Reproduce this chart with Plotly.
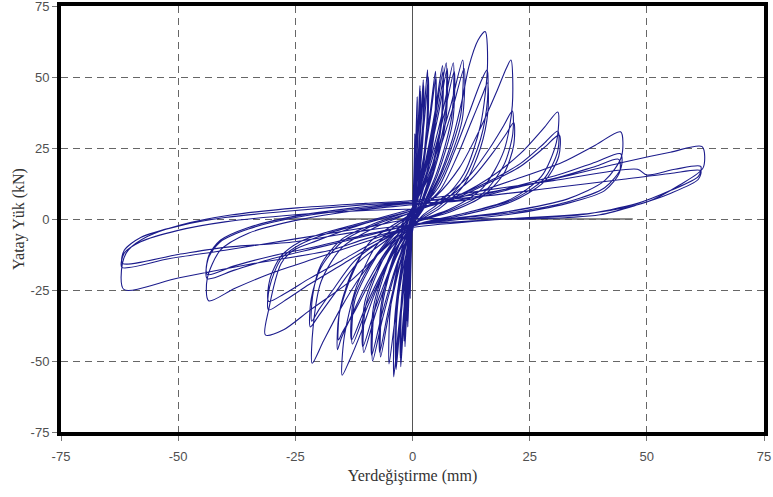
import plotly.graph_objects as go

# ---------------- data ----------------
# small cycles, two repeats per amplitude level (displacement mm, load kN)
lvl01_x = [0.18,0.38,0.5,0.48,0.3,0.1,-0.18,-0.38,-0.5,-0.48,-0.3,-0.1, 0.18,0.38,0.5,0.48,0.3,0.1,-0.18,-0.38,-0.5,-0.48,-0.3,-0.1]
lvl01_y = [9,21,30,19.5,9,1.8,-8.4,-19.6,-28,-18.2,-8.4,-1.7, 8.4,19.6,28,18.2,8.4,1.7,-7.8,-18.2,-26,-16.9,-7.8,-1.6]
lvl02_x = [0.35,0.75,1.0,0.96,0.6,0.2,-0.35,-0.75,-1.0,-0.96,-0.6,-0.2, 0.35,0.75,1.0,0.96,0.6,0.2,-0.39,-0.83,-1.1,-1.06,-0.66,-0.22]
lvl02_y = [12.9,30.1,43,28,12.9,2.6,-11.4,-26.6,-38,-24.7,-11.4,-2.3, 12.3,28.7,41,26.7,12.3,2.5,-10.8,-25.2,-36,-23.4,-10.8,-2.2]
lvl03_x = [0.56,1.2,1.6,1.54,0.96,0.32,-0.56,-1.2,-1.6,-1.54,-0.96,-0.32, 0.6,1.28,1.7,1.63,1.02,0.34,-0.63,-1.35,-1.8,-1.73,-1.08,-0.36]
lvl03_y = [14.1,32.9,47,30.6,14.1,2.8,-13.5,-31.5,-45,-29.3,-13.5,-2.7, 13.5,31.5,45,29.3,13.5,2.7,-12.9,-30.1,-43,-28,-12.9,-2.6]
lvl04_x = [0.8,1.73,2.3,2.21,1.38,0.46,-0.88,-1.88,-2.5,-2.4,-1.5,-0.5, 0.84,1.8,2.4,2.3,1.44,0.48,-0.91,-1.95,-2.6,-2.5,-1.56,-0.52]
lvl04_y = [14.7,34.3,49,31.9,14.7,2.9,-15.6,-36.4,-52,-33.8,-15.6,-3.1, 14.1,32.9,47,30.6,14.1,2.8,-14.7,-34.3,-49,-31.9,-14.7,-2.9]
lvl05_x = [1.12,2.4,3.2,3.07,1.92,0.64,-1.23,-2.63,-3.5,-3.36,-2.1,-0.7, 1.19,2.55,3.4,3.26,2.04,0.68,-1.26,-2.7,-3.6,-3.46,-2.16,-0.72]
lvl05_y = [15.8,36.8,52.5,34.1,15.8,3.2,-15.9,-37.1,-53,-34.5,-15.9,-3.2, 15,35,50,32.5,15,3,-15.3,-35.7,-51,-33.2,-15.3,-3.1]
lvl06_x = [1.72,3.68,4.9,4.7,2.94,0.98,-1.4,-3,-4,-3.84,-2.4,-0.8, 1.75,3.75,5,4.8,3,1,-1.75,-3.75,-5,-4.8,-3,-1]
lvl06_y = [15.6,36.4,52,33.8,15.6,3.1,-16.7,-38.9,-55.6,-36.1,-16.7,-3.3, 15,35,50,32.5,15,3,-15.3,-35.7,-51,-33.2,-15.3,-3.1]
lvl07_x = [2.24,4.8,6.4,6.14,3.84,1.28,-2.38,-5.1,-6.8,-6.53,-4.08,-1.36, 2.28,4.88,6.5,6.24,3.9,1.3,-2.45,-5.25,-7,-6.72,-4.2,-1.4]
lvl07_y = [16.2,37.8,54,35.1,16.2,3.2,-14.6,-34,-48.6,-31.6,-14.6,-2.9, 15.6,36.4,52,33.8,15.6,3.1,-14.1,-32.9,-47,-30.6,-14.1,-2.8]
lvl08_x = [2.52,5.4,7.2,6.91,4.32,1.44,-2.98,-6.38,-8.5,-8.16,-5.1,-1.7, 2.59,5.55,7.4,7.1,4.44,1.48,-3.05,-6.53,-8.7,-8.35,-5.22,-1.74]
lvl08_y = [16.5,38.5,55,35.8,16.5,3.3,-15,-35,-50,-32.5,-15,-3, 15.9,37.1,53,34.5,15.9,3.2,-14.4,-33.6,-48,-31.2,-14.4,-2.9]
lvl09_x = [3.05,6.53,8.7,8.35,5.22,1.74,-3.64,-7.8,-10.4,-9.98,-6.24,-2.08, 3.12,6.68,8.9,8.54,5.34,1.78,-3.71,-7.95,-10.6,-10.18,-6.36,-2.12]
lvl09_y = [16.5,38.5,55,35.8,16.5,3.3,-14.1,-32.9,-47,-30.6,-14.1,-2.8, 15.6,36.4,52,33.8,15.6,3.1,-13.5,-31.5,-45,-29.3,-13.5,-2.7]
lvl10_x = [3.75,8.03,10.7,10.27,6.42,2.14,-4.48,-9.6,-12.8,-12.29,-7.68,-2.56, 3.85,8.25,11,10.56,6.6,2.2,-4.55,-9.75,-13,-12.48,-7.8,-2.6]
lvl10_y = [16.8,39.2,56,36.4,16.8,3.4,-13.2,-30.8,-44,-28.6,-13.2,-2.6, 15.9,37.1,53,34.5,15.9,3.2,-12.8,-29.8,-42.6,-27.7,-12.8,-2.6]

# larger cycles, three repeats per amplitude level
lvl15_x = [1,5.3,8.5,10.6,12,14,15.5, 16,14.5,11,6,2, -4,-8,-11,-13.5,-15, -14.6,-12,-8,-4,0,
           5.5,9,12,14.5,15.9, 16,14.5,11,6,2, -4.5,-9,-12.5,-15,-15.8, -15.5,-13,-9,-4,0,
           5.8,9.5,12.5,15,16, 16.1,14.5,11,6,2, -5,-9.5,-13,-15.2,-16, -15.7,-13,-9,-4,0]
lvl15_y = [2,13.7,28,42,53.5,63,66, 54,33,16,6,1, -12,-26,-40,-50,-55, -42,-24,-10,-3,1.5,
           11,24,37,48,52.5, 42,28,14,5,0.5, -10,-22,-33,-40,-42.6, -32,-19,-8,-2,1.5,
           10,22,34,44,48, 38,25,12,4,0, -10,-22,-34,-42,-46, -34,-20,-8,-2,2]
lvl21_x = [5,10,14.5,18,20,21, 21.3,19.5,15,8,0, -6,-11,-15.5,-19,-21.4, -21.2,-19.5,-15,-8,0,
           6,12,16.5,19.5,21.3, 21.4,19.5,15,8,0, -6,-12,-16.5,-20,-21.8, -21.6,-19.5,-15,-8,0,
           6.5,12.5,17,20,21.6, 21.6,19.5,15,8,0, -6.5,-12.5,-17,-20,-21.5, -21.3,-19.5,-15,-8,0]
lvl21_y = [8,18,32,45,53,56, 40,24,11,3.5,-1.5, -10,-20,-32,-43,-50.8, -38,-22,-10,-3,2.5,
           7,15,25,33,38, 30,19,9,3,-1.5, -8,-16,-26,-34,-38, -28,-17,-8,-2,2.5,
           6.5,14,23,30,34, 26,16,8,2.5,-1.5, -7.5,-15,-25,-32,-36, -27,-16,-7,-1.5,3]
lvl31_x = [8,16,23,28,31, 30.7,27.5,21,11,0, -7,-13,-21.8,-27.5,-31.4, -30.7,-28,-25.4,-20.5,-10,0,
           8,16,23,28,31, 31,28,21,11,0, -8,-15,-22,-27.5,-30.7, -30.5,-28,-24,-18,-9,0,
           8,16,23,28,31.3, 31.2,28,21,11,0, -8,-15,-22,-27.5,-30.7, -30.4,-28,-24,-18,-9,0]
lvl31_y = [7,14,23,32,37.7, 27,15,7,2,-2.5, -12,-21.5,-32,-39,-40.8, -32,-15.6,-11,-7.7,-1.5,3,
           7,13,19.5,26.5,31, 24,14,6.5,2,-2.5, -9,-16,-23,-29,-32, -24,-14,-9,-5,-1,3,
           6.5,12.5,18.5,25,29.6, 22,13,6,1.5,-2.5, -8,-14.5,-21,-26.5,-29, -21,-13,-8,-4.5,-0.5,3.5]
lvl44_x = [11,22,32,39,44.4, 44.6,41,33,20,8,0, -10,-20,-30,-38,-43.5, -43.8,-41,-35,-24.6,-12,0,
           11,22,32,39,44.4, 44.5,41,33,20,8,0, -10,-20,-30,-38,-43.8, -43.6,-41,-35,-25,-12,0,
           11,22,32,39,44, 44.2,41,33,20,8,0, -10,-20,-30,-38,-43.8, -43.5,-41,-35,-25,-12,0]
lvl44_y = [8,14,20,26,30.7, 22,13.5,7,2.5,0,-2.5, -8,-13.5,-19,-24.5,-28.8, -21,-11,-5,-0.4,3,5,
           7,11.5,16,20,23, 18,11,6,2,0,-2, -6,-10,-14,-18,-21, -14,-8,-3.5,0.5,3.5,5.5,
           6.5,11,15,18.5,21, 16.5,10,5.5,1.5,-0.5,-2, -5.5,-9.5,-13,-16.5,-19.5, -13,-7.5,-3,1,4,6]
lvl62_x = [15,30,45,55,61.8, 62,57,50,38,20,0, -10,-17.5,-35,-50,-61.6, -61.9,-60.6,-56.6,-49.5,-38.8,-24.6,-10,0,
           15,30,48,50,56,61.5, 61,55,48,36,20,0, -10,-25,-40,-50,-61.9, -61.5,-58,-50,-40,-25,-10,0,
           15,30,45,55,61.5, 61,55,48,40,25,0, -10,-25,-40,-52,-62, -61.5,-58,-50,-40,-25,-10,0]
lvl62_y = [9,14,20,23.5,25.5, 18,12,6,2,0,-3, -7,-11,-16,-20.8,-24.8, -15.6,-10.9,-6.2,-2.1,1.4,3.9,5.5,6.5,
           10,13.5,17.5,15.5,17.5,18.5, 15,10,5.5,1.5,0,-2, -4,-8,-10,-12.5,-15.6, -11,-6.5,-2.5,0.5,3,5,6,
           8,11,14,16,17, 14,9,5,1.5,0,0, -3,-7,-11,-14,-17, -12,-8,-4,-1,1.5,3,3.5]

start_x = [0]
start_y = [0]

# partial solid zero line seen in the reference
ref_line_x = [-29.6, 47]
ref_line_y = [0, 0]

tick_vals = [-75, -50, -25, 0, 25, 50, 75]
tick_text = ["-75", "-50", "-25", "0", "25", "50", "75"]

x_title = "Yerdeğiştirme (mm)"
y_title = "Yatay Yük (kN)"

# ---------------- figure ----------------
xs = start_x + lvl01_x + lvl02_x + lvl03_x + lvl04_x + lvl05_x + lvl06_x + lvl07_x + lvl08_x + lvl09_x + lvl10_x \
     + lvl15_x + lvl21_x + lvl31_x + lvl44_x + lvl62_x
ys = start_y + lvl01_y + lvl02_y + lvl03_y + lvl04_y + lvl05_y + lvl06_y + lvl07_y + lvl08_y + lvl09_y + lvl10_y \
     + lvl15_y + lvl21_y + lvl31_y + lvl44_y + lvl62_y

fig = go.Figure()
fig.add_trace(go.Scatter(x=ref_line_x, y=ref_line_y, mode="lines",
                         line=dict(color="#6a6a6a", width=1.5), hoverinfo="skip"))
fig.add_trace(go.Scatter(x=xs, y=ys, mode="lines",
                         line=dict(color="#1c1c8c", width=1.1, shape="spline", smoothing=0.8)))

axis_common = dict(
    range=[-75, 75], tickvals=tick_vals, ticktext=tick_text, automargin=False,
    ticklabeloverflow="allow",
    showgrid=True, gridcolor="#666666", gridwidth=1.4, griddash="7px,5px",
    showline=True, linecolor="black", linewidth=4, mirror=True,
    ticks="outside", ticklen=5, tickcolor="#777", tickwidth=1,
    tickfont=dict(family="Liberation Sans, Arial, sans-serif", size=13, color="#505050"),
)

fig.update_layout(
    width=773, height=497,
    margin=dict(l=61, r=9, t=6, b=65),
    paper_bgcolor="white", plot_bgcolor="white",
    showlegend=False,
    xaxis=dict(**axis_common, zeroline=True, zerolinecolor="#555", zerolinewidth=1,
               ticklabelstandoff=4,
               title=dict(text=x_title, standoff=8,
                          font=dict(family="Liberation Serif, Times New Roman, serif", size=16, color="#333"))),
    yaxis=dict(**axis_common, zeroline=False,
               title=dict(text=y_title, standoff=3,
                          font=dict(family="Liberation Serif, Times New Roman, serif", size=16, color="#333"))),
)

fig.write_html("out.html")
